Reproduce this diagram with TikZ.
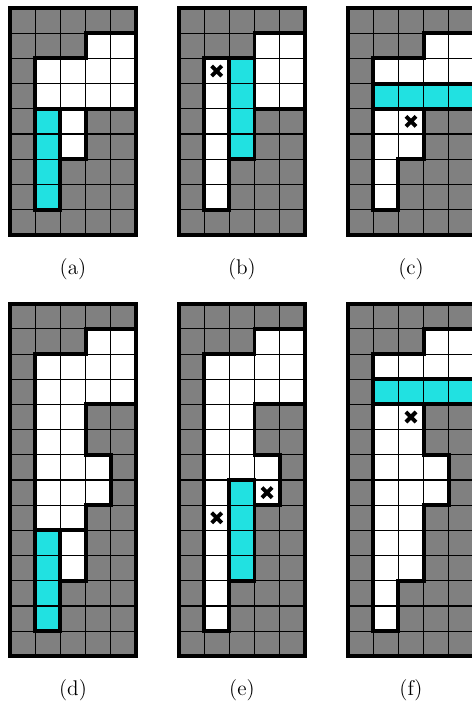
\documentclass[tikz,border=0pt]{standalone}
\usepackage{tikz}

\definecolor{cutcyan}{RGB}{33,225,225}

\tikzset{
    blocked/.style={fill=gray},
    free/.style={fill=white},
    cut/.style={fill=cutcyan},
    cellgrid/.style={line width=0.6pt, black, step=0.5cm},
    wall/.style={line width=2.2pt, black, line cap=rect},
    cross/.style={line width=2.2pt, black},
    caption/.style={font=\fontsize{12}{14}\selectfont}
}

\begin{document}
\begin{tikzpicture}[x=0.5cm, y=0.5cm]
    \useasboundingbox (0,0) rectangle (18.73,-27.86);

    % (a)
    \begin{scope}[shift={(0.397,-0.317)}]
        \fill[blocked] (0,0) rectangle (5,-9);
        \fill[free] (3,-1) -- (5,-1) -- (5,-4) -- (3,-4) -- (3,-6) -- (2,-6) -- (2,-8) -- (1,-8) -- (1,-2) -- (3,-2) -- cycle;
        \fill[cut] (1,-4) rectangle (2,-8);
        \draw[cellgrid] (0,0) grid (5,-9);
        \draw[wall] (3,-1) -- (5,-1) -- (5,-4) -- (3,-4) -- (3,-6) -- (2,-6) -- (2,-8) -- (1,-8) -- (1,-2) -- (3,-2) -- cycle;
        \draw[wall] (1,-4) -- (3,-4) (2,-4) -- (2,-6);
        \draw[wall] (0,0) rectangle (5,-9);
        \node[caption] (capa) at (2.5,-10.35) {(a)};
    \end{scope}

    % (b)
    \begin{scope}[shift={(7.1,-0.317)}]
        \fill[blocked] (0,0) rectangle (5,-9);
        \fill[free] (3,-1) -- (5,-1) -- (5,-4) -- (3,-4) -- (3,-6) -- (2,-6) -- (2,-8) -- (1,-8) -- (1,-2) -- (3,-2) -- cycle;
        \fill[cut] (2,-2) rectangle (3,-6);
        \draw[cellgrid] (0,0) grid (5,-9);
        \draw[wall] (3,-1) -- (5,-1) -- (5,-4) -- (3,-4) -- (3,-6) -- (2,-6) -- (2,-8) -- (1,-8) -- (1,-2) -- (3,-2) -- cycle;
        \draw[wall] (2,-2) -- (2,-6) (3,-2) -- (3,-4);
        \draw[wall] (0,0) rectangle (5,-9);
        \draw[cross] (1.3,-2.3) -- (1.7,-2.7) (1.3,-2.7) -- (1.7,-2.3);
        \node[caption] (capb) at (2.5,-10.35) {(b)};
    \end{scope}

    % (c)
    \begin{scope}[shift={(13.81,-0.317)}]
        \fill[blocked] (0,0) rectangle (5,-9);
        \fill[free] (3,-1) -- (5,-1) -- (5,-4) -- (3,-4) -- (3,-6) -- (2,-6) -- (2,-8) -- (1,-8) -- (1,-2) -- (3,-2) -- cycle;
        \fill[cut] (1,-3) rectangle (5,-4);
        \draw[cellgrid] (0,0) grid (5,-9);
        \draw[wall] (3,-1) -- (5,-1) -- (5,-4) -- (3,-4) -- (3,-6) -- (2,-6) -- (2,-8) -- (1,-8) -- (1,-2) -- (3,-2) -- cycle;
        \draw[wall] (1,-3) -- (5,-3) (1,-4) -- (3,-4);
        \draw[wall] (0,0) rectangle (5,-9);
        \draw[cross] (2.3,-4.3) -- (2.7,-4.7) (2.3,-4.7) -- (2.7,-4.3);
        \node[caption] (capc) at (2.5,-10.35) {(c)};
    \end{scope}

    % (d)
    \begin{scope}[shift={(0.397,-12.05)}]
        \fill[blocked] (0,0) rectangle (5,-14);
        \fill[free] (3,-1) -- (5,-1) -- (5,-4) -- (3,-4) -- (3,-6) -- (4,-6) -- (4,-8) -- (3,-8) -- (3,-11) -- (2,-11) -- (2,-13) -- (1,-13) -- (1,-2) -- (3,-2) -- cycle;
        \fill[cut] (1,-9) rectangle (2,-13);
        \draw[cellgrid] (0,0) grid (5,-14);
        \draw[wall] (3,-1) -- (5,-1) -- (5,-4) -- (3,-4) -- (3,-6) -- (4,-6) -- (4,-8) -- (3,-8) -- (3,-11) -- (2,-11) -- (2,-13) -- (1,-13) -- (1,-2) -- (3,-2) -- cycle;
        \draw[wall] (1,-9) -- (3,-9) (2,-9) -- (2,-11);
        \draw[wall] (0,0) rectangle (5,-14);
        \node[caption] (capd) at (2.5,-15.33) {(d)};
    \end{scope}

    % (e)
    \begin{scope}[shift={(7.1,-12.05)}]
        \fill[blocked] (0,0) rectangle (5,-14);
        \fill[free] (3,-1) -- (5,-1) -- (5,-4) -- (3,-4) -- (3,-6) -- (4,-6) -- (4,-8) -- (3,-8) -- (3,-11) -- (2,-11) -- (2,-13) -- (1,-13) -- (1,-2) -- (3,-2) -- cycle;
        \fill[cut] (2,-7) rectangle (3,-11);
        \draw[cellgrid] (0,0) grid (5,-14);
        \draw[wall] (3,-1) -- (5,-1) -- (5,-4) -- (3,-4) -- (3,-6) -- (4,-6) -- (4,-8) -- (3,-8) -- (3,-11) -- (2,-11) -- (2,-13) -- (1,-13) -- (1,-2) -- (3,-2) -- cycle;
        \draw[wall] (2,-7) -- (3,-7) (2,-7) -- (2,-11) (3,-7) -- (3,-8);
        \draw[wall] (0,0) rectangle (5,-14);
        \draw[cross] (3.3,-7.3) -- (3.7,-7.7) (3.3,-7.7) -- (3.7,-7.3);
        \draw[cross] (1.3,-8.3) -- (1.7,-8.7) (1.3,-8.7) -- (1.7,-8.3);
        \node[caption] (cape) at (2.5,-15.33) {(e)};
    \end{scope}

    % (f)
    \begin{scope}[shift={(13.81,-12.05)}]
        \fill[blocked] (0,0) rectangle (5,-14);
        \fill[free] (3,-1) -- (5,-1) -- (5,-4) -- (3,-4) -- (3,-6) -- (4,-6) -- (4,-8) -- (3,-8) -- (3,-11) -- (2,-11) -- (2,-13) -- (1,-13) -- (1,-2) -- (3,-2) -- cycle;
        \fill[cut] (1,-3) rectangle (5,-4);
        \draw[cellgrid] (0,0) grid (5,-14);
        \draw[wall] (3,-1) -- (5,-1) -- (5,-4) -- (3,-4) -- (3,-6) -- (4,-6) -- (4,-8) -- (3,-8) -- (3,-11) -- (2,-11) -- (2,-13) -- (1,-13) -- (1,-2) -- (3,-2) -- cycle;
        \draw[wall] (1,-3) -- (5,-3) (1,-4) -- (3,-4);
        \draw[wall] (0,0) rectangle (5,-14);
        \draw[cross] (2.3,-4.3) -- (2.7,-4.7) (2.3,-4.7) -- (2.7,-4.3);
        \node[caption] (capf) at (2.5,-15.33) {(f)};
    \end{scope}
\end{tikzpicture}
\end{document}
